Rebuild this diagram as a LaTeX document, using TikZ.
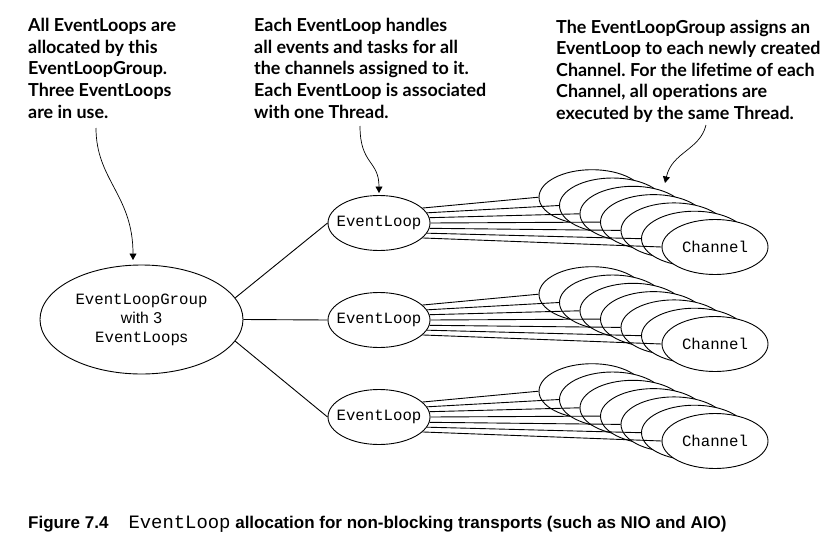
\documentclass[tikz,border=0pt]{standalone}
\usepackage{fontspec}
\setmainfont{Liberation Sans}
\setmonofont{Liberation Mono}
\newfontfamily\notefont{Lato}
\usetikzlibrary{shapes.geometric,arrows.meta}
\newcommand\zw[1]{\makebox[0pt]{#1}}
\frenchspacing
\begin{document}
\begin{tikzpicture}[x=1pt,y=-1pt,
  note/.style={anchor=base west, inner sep=0pt, font=\notefont\bfseries\fontsize{17.9}{21.6}\selectfont},
  grp/.style={ellipse, draw, line width=0.9pt, fill=white, inner sep=0pt, minimum width=203pt, minimum height=109pt, align=center, font=\fontsize{15.7}{19}\selectfont},
  loopnode/.style={ellipse, draw, line width=0.9pt, fill=white, inner sep=0pt, minimum width=102pt, minimum height=55pt, font=\ttfamily\fontsize{15.7}{19}\selectfont},
  chan/.style={ellipse, draw, line width=0.9pt, fill=white, inner sep=0pt, minimum width=106pt, minimum height=55pt, font=\ttfamily\fontsize{15.7}{19}\selectfont},
  conn/.style={line width=0.9pt},
  arr/.style={-{Triangle[length=6.5pt,width=7pt]}, line width=0.7pt},
  capt/.style={anchor=base west, inner sep=0pt, font=\bfseries\fontsize{17}{20}\selectfont}]
\useasboundingbox (0,0) rectangle (839,552);

% annotations
\node[note] (n1) at (28,31.7) {\begin{tabular}[t]{@{}l@{}}All EventLoops are\\allocated by this\\EventLoopGroup.\\Three EventLoops\\are in use.\end{tabular}};
\node[note] (n2) at (254,31.7) {\begin{tabular}[t]{@{}l@{}}Each EventLoop handles\\all events and tasks for all\\the channels assigned to it.\\Each EventLoop is associated\\with one Thread.\end{tabular}};
\node[note] (n3) at (556,33) {\begin{tabular}[t]{@{}l@{}}The EventLoopGroup assigns an\\EventLoop to each newly created\\Channel. For the lifetime of each\\Channel, all operations are\\executed by the same Thread.\end{tabular}};

% group and event loops
\node[grp] (g) at (141.5,319.5) {{\ttfamily EventLoopGroup}\\with 3\\{\ttfamily EventLoop}s};
\node[loopnode] (e1) at (379,223) {\zw{EventLoop}};
\node[loopnode] (e2) at (379,320) {\zw{EventLoop}};
\node[loopnode] (e3) at (379,417) {\zw{EventLoop}};

\draw[conn] (g.13) -- (e1.west);
\draw[conn] (g.east) -- (e2.west);
\draw[conn] (g.-13) -- (e3.west);

% channel stacks
\foreach \i/\cy in {1/223,2/320,3/417} {
  \foreach \k in {0,...,6} {
    \node[chan] (c\i\k) at ({715-20.5*(6-\k)}, {\cy+24-8.3*(6-\k)}) {\ifnum\k=6 \zw{Channel}\fi};
  }
  \foreach \k/\a in {0/19,1/12,2/6,3/0,4/-6,5/-12,6/-19} {
    \draw[conn] (e\i.\a) -- (c\i\k.west);
  }
}

% arrows
\coordinate (a1s) at (96,128);
\coordinate (a1e) at (133,260);
\draw[arr] (a1s) .. controls (96,180) and (133,195) .. (a1e);
\coordinate (a2s) at (360,126);
\coordinate (a2e) at (379,193);
\draw[arr] (a2s) .. controls (360,165) and (379,160) .. (a2e);
\coordinate (a3s) at (706,125);
\coordinate (a3e) at (665,183);
\draw[arr] (a3s) .. controls (700,150) and (672,152) .. (a3e);

% caption
\node[capt] (cap) at (28,528) {Figure 7.4\hspace{20pt}{\ttfamily\mdseries\fontsize{18.9}{20}\selectfont EventLoop} allocation for non-blocking transports (such as NIO and AIO)};
\end{tikzpicture}
\end{document}
